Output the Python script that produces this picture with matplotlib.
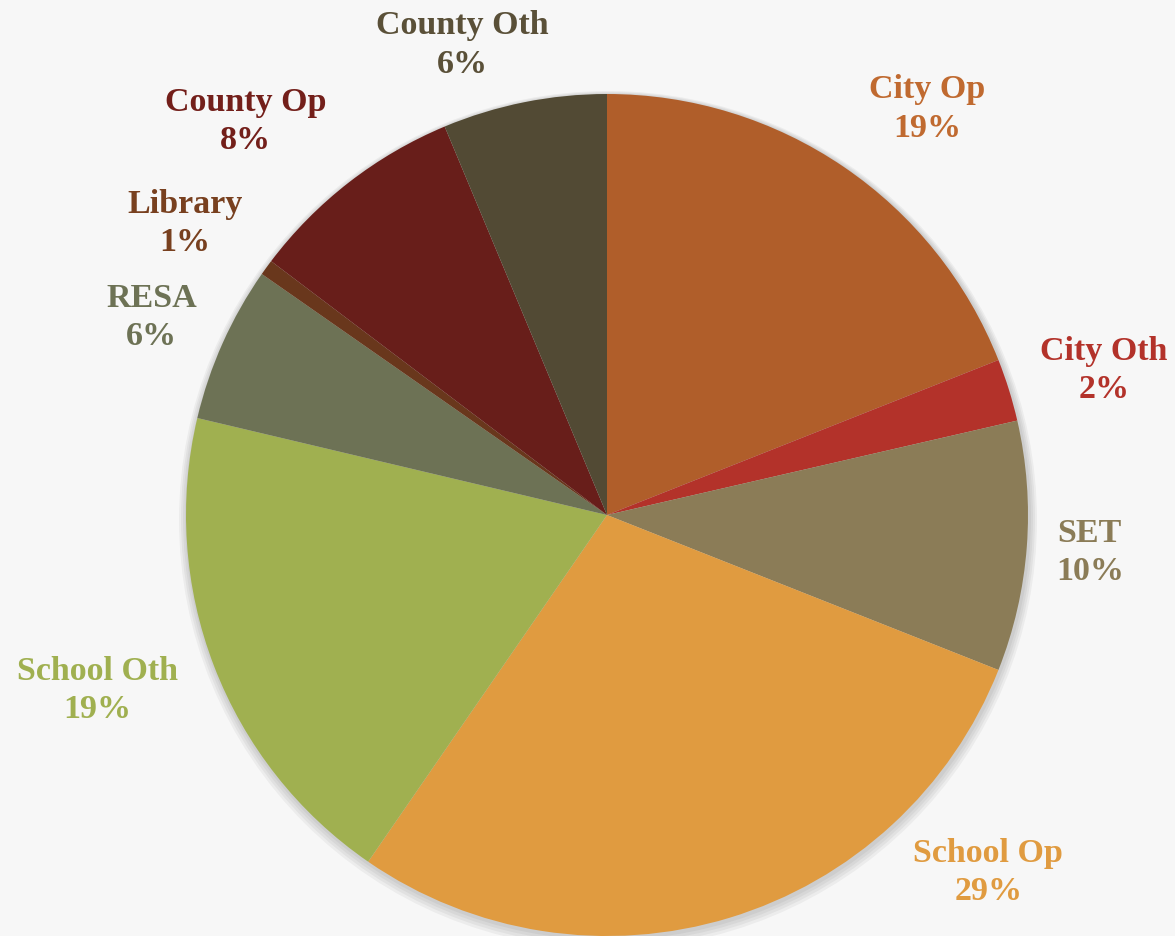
import numpy as np
import matplotlib
matplotlib.use("Agg")
import matplotlib.pyplot as plt
from matplotlib.patches import Circle

# =====================================================
# DADOS
# =====================================================

CATEGORIAS = ["City Op", "City Oth", "SET", "School Op", "School Oth",
              "RESA", "Library", "County Op", "County Oth"]

PERCENTUAIS = [19.0, 2.4, 9.6, 28.6, 19.1, 6.0, 0.6, 8.4, 6.3]

CORES = ["#B05E2A", "#B3322A", "#8B7C57", "#E09B40", "#A0B050",
         "#6D7255", "#69371C", "#681E1A", "#524A34"]

CORES_TEXTO = ["#C06A30", "#B3322A", "#8B7C57", "#E09B40", "#A0B050",
               "#6D7255", "#78401F", "#731F1A", "#5A5038"]

# distância do rótulo (em raios) e ajuste de ângulo (graus)
DIST_ROTULO = [1.23, 1.23, 1.15, 1.24, 1.28, 1.18, 1.22, 1.27, 1.17]
AJUSTE_ANGULO = [-4, -1, 0, 30, -2.2, 0.6, 1.3, 4.7, 5.7]

# =====================================================
# GRÁFICO
# =====================================================

def grafico_pizza():
    fig = plt.figure(figsize=(11.75, 9.37), dpi=100)
    fig.patch.set_facecolor("#F7F7F7")
    ax = fig.add_axes([0, 0, 1, 1])

    centro = (607, 421)
    raio = 421

    # sombra suave
    for i in range(4):
        ax.add_patch(Circle((centro[0] + 1, centro[1] - 2 - i), raio + 2 + 2 * i,
                            color="#000000", alpha=0.045, lw=0, zorder=1))

    wedges, _ = ax.pie(
        PERCENTUAIS,
        colors=CORES,
        startangle=90,
        counterclock=False,
        center=centro,
        radius=raio,
        wedgeprops=dict(linewidth=0),
        frame=True,
    )
    for w in wedges:
        w.set_zorder(2)
    ax.set_xlim(0, 1175)
    ax.set_ylim(0, 937)
    ax.set_aspect("equal")
    ax.axis("off")

    for w, nome, pct, cor, d, aj in zip(wedges, CATEGORIAS, PERCENTUAIS,
                                        CORES_TEXTO, DIST_ROTULO, AJUSTE_ANGULO):
        ang = np.deg2rad((w.theta1 + w.theta2) / 2 + aj)
        x = centro[0] + d * raio * np.cos(ang)
        y = centro[1] + d * raio * np.sin(ang)
        ax.text(x, y, f"{nome}\n{pct:.0f}%", ha="center", va="center",
                color=cor, fontsize=24.5, fontweight="bold",
                family="Liberation Serif", linespacing=1.3, zorder=3)

    fig.savefig("out.png", dpi=100, facecolor=fig.get_facecolor())


def main():
    grafico_pizza()


if __name__ == "__main__":
    main()
